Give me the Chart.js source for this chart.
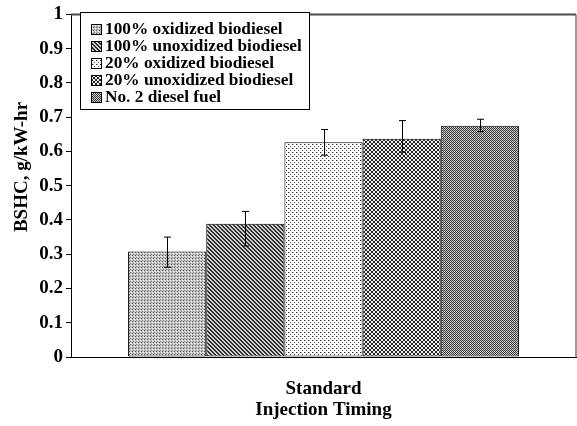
<!DOCTYPE html>
<html>
<head>
<meta charset="utf-8">
<script src="https://cdn.jsdelivr.net/npm/chart.js@4.4.0/dist/chart.umd.min.js"></script>
<style>
html, body { margin: 0; padding: 0; background: #fff; }
#wrap { width: 577px; height: 426px; }
</style>
</head>
<body>
<div id="wrap"><canvas id="bshcChart" width="577" height="426"></canvas></div>
<script>
const categories = [['Standard', 'Injection Timing']];
const seriesNames = [
    '100% oxidized biodiesel',
    '100% unoxidized biodiesel',
    '20% oxidized biodiesel',
    '20% unoxidized biodiesel',
    'No. 2 diesel fuel'
];
const bshc = [0.308, 0.389, 0.627, 0.637, 0.675];
const errLow = [0.262, 0.324, 0.589, 0.598, 0.658];
const errHigh = [0.350, 0.425, 0.664, 0.690, 0.694];
const yTicks = [0, 0.1, 0.2, 0.3, 0.4, 0.5, 0.6, 0.7, 0.8, 0.9, 1];

const serif = '"Liberation Serif", "Times New Roman", serif';

// little bitmap tiles to fake the print hatching
function makePattern(w, h, bg, dots) {
    const c = document.createElement('canvas');
    c.width = w; c.height = h;
    const g = c.getContext('2d');
    g.fillStyle = bg;
    g.fillRect(0, 0, w, h);
    dots.forEach(d => {
        g.fillStyle = d[2];
        g.fillRect(d[0], d[1], 1, 1);
    });
    return g.createPattern(c, 'repeat');
}

const diagDots = [];
const crossDots = [];
for (let y = 0; y < 4; y++) {
    for (let x = 0; x < 4; x++) {
        const k = (x - y + 8) % 4;
        if (k === 0 || k === 1) diagDots.push([x, y, '#2e2e2e']);
        if (x === y || x + y === 3) crossDots.push([x, y, '#222']);
    }
}

const fills = [
    makePattern(3, 3, '#c4c4c4', [[0, 0, '#555'], [2, 1, '#fff'], [1, 2, '#8a8a8a']]),
    makePattern(4, 4, '#d0d0d0', diagDots),
    makePattern(4, 4, '#ffffff', [[0, 0, '#222'], [2, 2, '#444'], [1, 0, '#bbb']]),
    makePattern(4, 4, '#f2f2f2', crossDots),
    makePattern(2, 2, '#3a3a3a', [[1, 0, '#bdbdbd'], [0, 1, '#d8d8d8']])
];

const datasets = seriesNames.map((name, i) => ({
    label: name,
    data: [bshc[i]],
    backgroundColor: fills[i],
    borderColor: '#000',
    borderWidth: 1,
    borderSkipped: false
}));

const extras = {
    id: 'extras',
    afterDatasetsDraw(chart) {
        const c = chart.ctx;
        const ys = chart.scales.y;
        c.save();
        c.strokeStyle = '#000';
        c.lineWidth = 1;
        chart.data.datasets.forEach((ds, i) => {
            const bar = chart.getDatasetMeta(i).data[0];
            const x = Math.round(bar.x) + 0.5;
            const top = ys.getPixelForValue(errHigh[i]);
            const bot = ys.getPixelForValue(errLow[i]);
            c.beginPath();
            c.moveTo(x, top); c.lineTo(x, bot);
            c.moveTo(x - 3.5, top); c.lineTo(x + 3.5, top);
            c.moveTo(x - 3.5, bot); c.lineTo(x + 3.5, bot);
            c.stroke();
        });
        c.restore();
    },
    afterDraw(chart) {
        const c = chart.ctx;
        const a = chart.chartArea;
        c.save();
        // top and right frame
        c.strokeStyle = '#4a4a4a';
        c.lineWidth = 2;
        c.beginPath();
        c.moveTo(a.left, a.top); c.lineTo(a.right, a.top);
        c.stroke();
        c.strokeStyle = '#777';
        c.lineWidth = 1.5;
        c.beginPath();
        c.moveTo(a.right, a.top); c.lineTo(a.right, a.bottom);
        c.stroke();

        // y title
        c.fillStyle = '#000';
        c.font = 'bold 19px ' + serif;
        c.textAlign = 'center';
        c.textBaseline = 'middle';
        c.translate(22, 167);
        c.rotate(-Math.PI / 2);
        c.fillText('BSHC, g/kW-hr', 0, 0);
        c.restore();

        // legend box
        c.save();
        c.fillStyle = '#fff';
        c.fillRect(81, 13, 229, 97);
        c.strokeStyle = '#000';
        c.lineWidth = 1;
        c.strokeRect(80.5, 12.5, 229, 97);
        c.font = 'bold 17.3px ' + serif;
        c.textAlign = 'left';
        c.textBaseline = 'middle';
        chart.data.datasets.forEach((ds, i) => {
            const ry = 29 + i * 17;
            c.fillStyle = ds.backgroundColor;
            c.fillRect(91, ry - 5, 11, 11);
            c.strokeStyle = '#000';
            c.strokeRect(91.5, ry - 4.5, 10, 10);
            c.fillStyle = '#000';
            c.fillText(ds.label, 105, ry + 1);
        });
        c.restore();
    }
};

new Chart(document.getElementById('bshcChart'), {
    type: 'bar',
    data: { labels: categories, datasets: datasets },
    options: {
        responsive: false,
        devicePixelRatio: 1,
        animation: false,
        layout: { padding: { top: 11, right: 1, left: 0, bottom: 0 } },
        plugins: {
            legend: { display: false },
            tooltip: { enabled: false }
        },
        datasets: {
            bar: { categoryPercentage: 0.774, barPercentage: 1 }
        },
        scales: {
            x: {
                grid: { display: false },
                border: { display: true, color: '#000', width: 1 },
                ticks: {
                    color: '#000',
                    font: { family: serif, size: 19, weight: 'bold', lineHeight: 1.1 },
                    padding: 14,
                    maxRotation: 0
                },
                afterFit(scale) { scale.height = 69; }
            },
            y: {
                min: 0,
                max: 1,
                afterBuildTicks(scale) {
                    scale.ticks = yTicks.map(v => ({ value: v }));
                },
                grid: {
                    drawOnChartArea: false,
                    drawTicks: true,
                    tickLength: 5,
                    color: '#000'
                },
                border: { display: true, color: '#000', width: 1 },
                ticks: {
                    color: '#000',
                    font: { family: serif, size: 19, weight: 'bold' },
                    padding: 3,
                    callback: v => String(v)
                },
                afterFit(scale) { scale.width = 71; }
            }
        }
    },
    plugins: [extras]
});
</script>
</body>
</html>
